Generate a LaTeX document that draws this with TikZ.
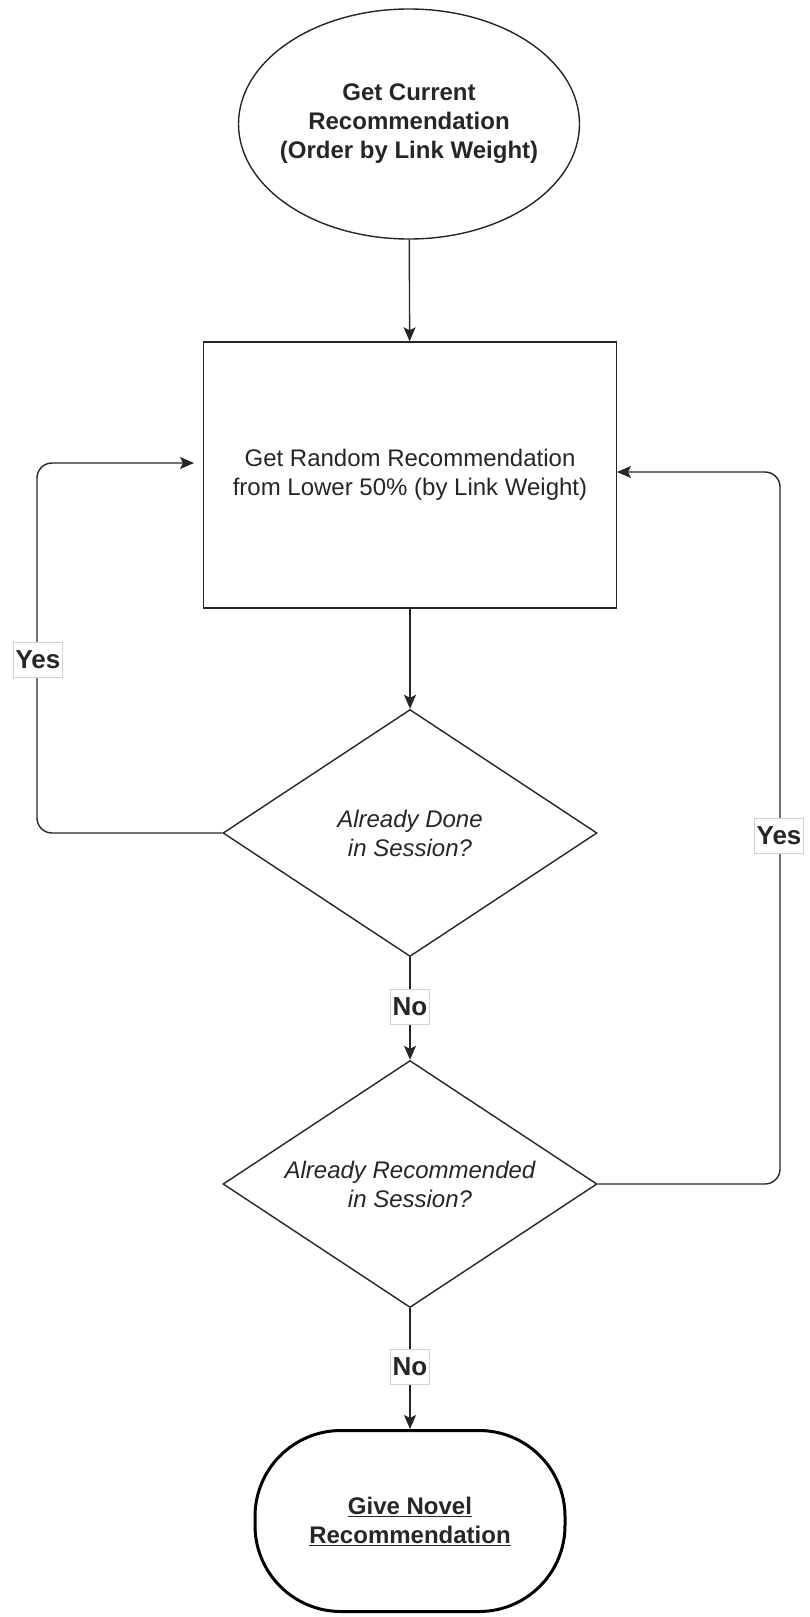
\documentclass[tikz,border=0pt]{standalone}
\usepackage{fontspec}
\setmainfont{Liberation Sans}
\usetikzlibrary{shapes.geometric,arrows.meta}
\def\txt{\fontsize{24}{29}\selectfont}
\def\arr{\draw[-{Stealth[length=14pt,width=12pt,inset=3pt]},line width=1.4pt,black!85]}

\begin{document}
\begin{tikzpicture}[x=1pt,y=-1pt,
    every node/.style={align=center,text=black!85,font=\txt},
    startbox/.style={ellipse,draw=black!85,line width=1.4pt,inner xsep=-30pt,inner ysep=0pt,
        minimum width=341pt,minimum height=230pt,font=\txt\bfseries},
    stepbox/.style={rectangle,draw=black!85,line width=1.4pt,
        minimum width=413pt,minimum height=266pt},
    askbox/.style={diamond,aspect=1.5,draw=black!85,line width=1.4pt,inner sep=0pt,
        minimum width=374pt,minimum height=247pt,font=\txt\itshape},
    endbox/.style={rectangle,rounded corners=86pt,draw=black,line width=3pt,
        minimum width=310pt,minimum height=181pt,font=\txt\bfseries},
    lbl/.style={fill=white,draw=gray!35,line width=0.8pt,inner xsep=2pt,
        minimum height=35pt,font=\fontsize{26}{30}\selectfont\bfseries}]
    \useasboundingbox (0,0) rectangle (809,1617);

    \node[startbox] (cur) at (409,124) {Get Current\\Recommendation\\(Order by Link Weight)};
    \node[stepbox]  (rnd) at (410,475) {Get Random Recommendation\\from Lower 50\% (by Link Weight)};
    \node[askbox]   (done) at (410,833) {Already Done\\in Session?};
    \node[askbox]   (recd) at (410,1184) {Already Recommended\\in Session?};
    \node[endbox]   (give) at (410,1521) {\underline{Give Novel}\\\underline{Recommendation}};

    \coordinate (inL) at (203,463);
    \coordinate (inR) at (617,472);

    \arr (cur) -- (rnd);
    \arr (rnd) -- (done);
    \arr (done) -- (recd);
    \arr (recd) -- (give);
    \arr[rounded corners=15pt,shorten >=9pt] (done.west) -| (37,463) -- (inL);
    \arr[rounded corners=15pt] (recd.east) -| (780,472) -- (inR);

    \node[lbl] (yesL) at (38,660) {Yes};
    \node[lbl] (yesR) at (779,836) {Yes};
    \node[lbl] (noA) at (410,1007) {No};
    \node[lbl] (noB) at (410,1367) {No};
\end{tikzpicture}
\end{document}
